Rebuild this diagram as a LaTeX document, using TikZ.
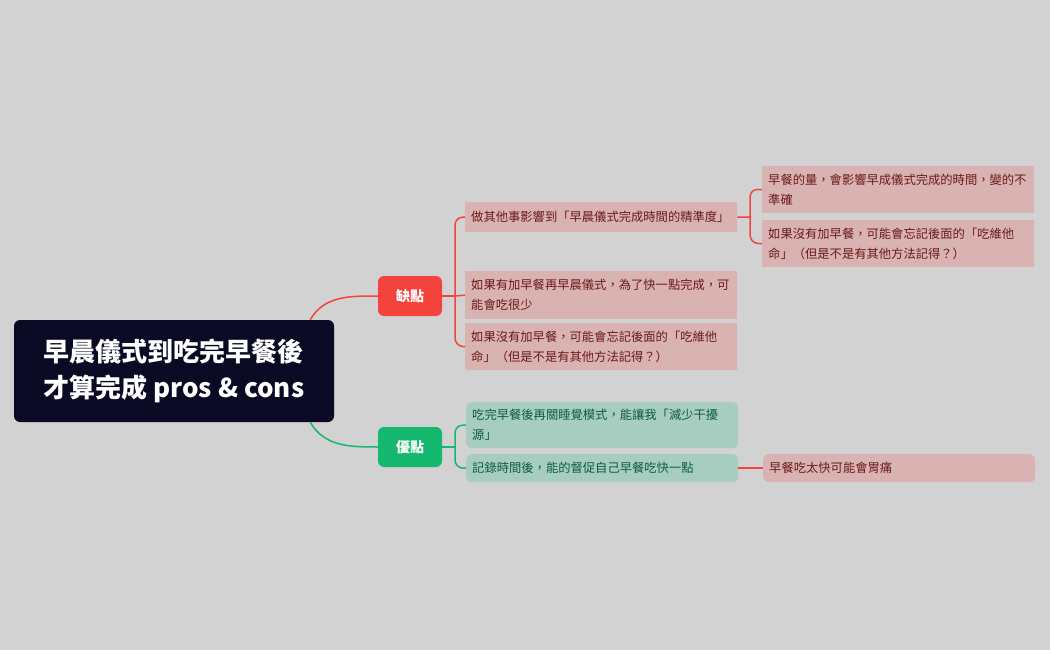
\documentclass[tikz,border=0pt]{standalone}
\usepackage{fontspec}
\setmainfont{Noto Sans CJK TC}
\usetikzlibrary{positioning}
\definecolor{bg}{HTML}{D2D2D2}
\definecolor{navy}{HTML}{0A0A24}
\definecolor{cred}{HTML}{F4433C}
\definecolor{cgreen}{HTML}{14B86F}
\definecolor{pinkf}{HTML}{D9B2B2}
\definecolor{pinkt}{HTML}{6B1A1A}
\definecolor{greenf}{HTML}{A6CDBF}
\definecolor{greent}{HTML}{0C5C3C}
\tikzset{
 leaf/.style={anchor=north west,text width=260pt,inner sep=6pt,font=\fontsize{12.3}{20}\selectfont,align=left},
 pinkleaf/.style={leaf,fill=pinkf,text=pinkt},
 greenleaf/.style={leaf,fill=greenf,text=greent,rounded corners=6pt},
 cat/.style={minimum width=64pt,minimum height=40pt,rounded corners=6pt,text=white,font=\bfseries\fontsize{14}{16}\selectfont},
 rl/.style={cred,line width=1.5pt},
 gl/.style={cgreen,line width=1.5pt},
}
\begin{document}
\begin{tikzpicture}[x=1pt,y=-1pt]
\fill[bg] (0,0) rectangle (1050,650);
\useasboundingbox (0,0) rectangle (1050,650);
\node[fill=navy,rounded corners=6pt,minimum width=320pt,minimum height=102pt,text=white,font=\bfseries\fontsize{26}{36}\selectfont,align=left] (root) at (174,371) {早晨儀式到吃完早餐後\\才算完成 pros \& cons};
\node[cat,fill=cred] (cons) at (410,296) {缺點};
\node[cat,fill=cgreen] (pros) at (410,447) {優點};
\node[pinkleaf,minimum height=30pt] (a) at (465,202) {做其他事影響到「早晨儀式完成時間的精準度」};
\node[pinkleaf,minimum height=48pt] (b) at (465,271) {如果有加早餐再早晨儀式，為了快一點完成，可\\能會吃很少};
\node[pinkleaf,minimum height=47pt] (c) at (465,323) {如果沒有加早餐，可能會忘記後面的「吃維他\\命」（但是不是有其他方法記得？）};
\node[pinkleaf,minimum height=47pt] (a1) at (762,166) {早餐的量，會影響早成儀式完成的時間，變的不\\準確};
\node[pinkleaf,minimum height=47pt] (a2) at (762,220) {如果沒有加早餐，可能會忘記後面的「吃維他\\命」（但是不是有其他方法記得？）};
\node[greenleaf,minimum height=46pt] (g1) at (466,402) {吃完早餐後再關睡覺模式，能讓我「減少干擾\\源」};
\node[greenleaf,minimum height=28pt] (g2) at (466,454) {記錄時間後，能的督促自己早餐吃快一點};
\node[pinkleaf,rounded corners=6pt,minimum height=28pt] (g2a) at (763,454) {早餐吃太快可能會胃痛};
\draw[rl] (root.north east)++(-24,0) to[out=60,in=180] (cons.west);
\draw[gl] (root.south east)++(-24,0) to[out=-60,in=180] (pros.west);
\draw[rl] (cons.east) -- (455,296);
\draw[rl,rounded corners=8pt] (a.west) -- (455,217) -- (455,346) -- (c.west);
\draw[rl] (455,296) -- (b.west);
\draw[gl,rounded corners=8pt] (g1.west) -- (455,425) -- (455,468) -- (g2.west);
\draw[gl] (pros.east) -- (455,447);
\draw[rl] (a.east) -- (750,217);
\draw[rl,rounded corners=8pt] (a1.west) -- (750,189) -- (750,243) -- (a2.west);
\draw[rl] (g2.east) -- (g2a.west);
\end{tikzpicture}
\end{document}
